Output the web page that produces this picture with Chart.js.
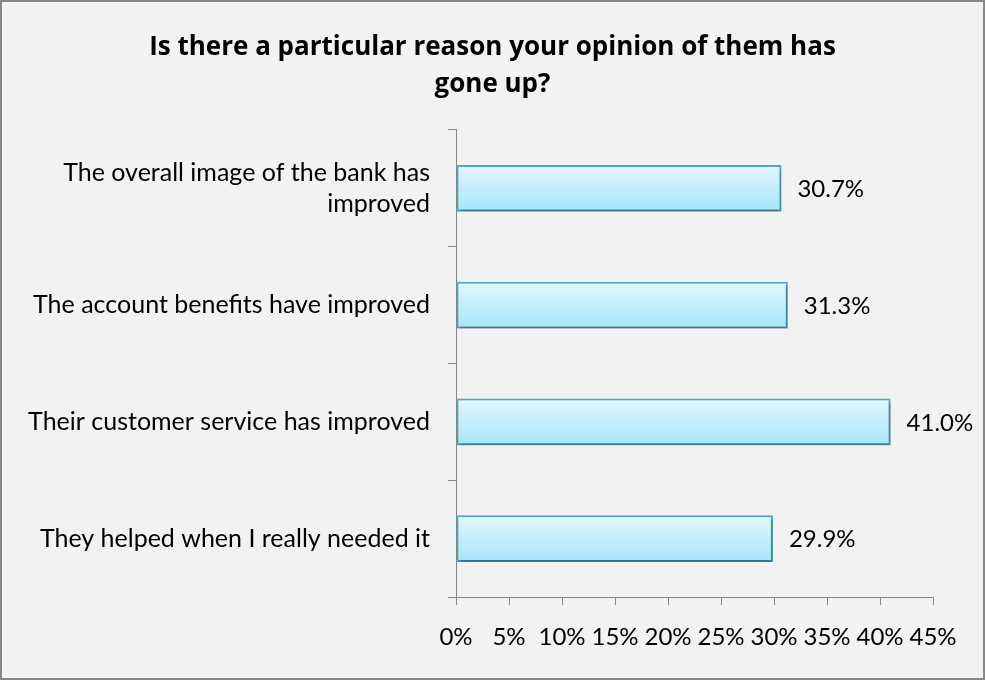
<!DOCTYPE html>
<html>
<head>
<meta charset="utf-8">
<script src="https://cdn.jsdelivr.net/npm/chart.js@4/dist/chart.umd.min.js"></script>
<style>
  html, body { margin: 0; padding: 0; background: #f2f2f2; }
  #wrap { width: 985px; height: 680px; position: relative; }
</style>
</head>
<body>
<div id="wrap"><canvas id="c" width="985" height="680"></canvas></div>
<script>
// Survey answers, top to bottom
const categories = [
  ['The overall image of the bank has', 'improved'],
  'The account benefits have improved',
  'Their customer service has improved',
  'They helped when I really needed it'
];
const shares = [30.7, 31.3, 41.0, 29.9];
const titleLines = ['Is there a particular reason your opinion of them has', 'gone up?'];
const axisMax = 45;
const axisStep = 5;

const FONT = 'Lato, "Open Sans", sans-serif';
const TITLE_FONT = '"Open Sans", Lato, sans-serif';
const AXIS_GREY = '#878787';
const CAT_PCT = 0.4;

// Panel background and frame
const framePlugin = {
  id: 'frame',
  beforeDraw(chart) {
    const { ctx, width, height } = chart;
    ctx.save();
    ctx.fillStyle = '#f2f2f2';
    ctx.fillRect(0, 0, width, height);
    ctx.strokeStyle = '#878787';
    ctx.lineWidth = 2;
    ctx.strokeRect(1, 1, width - 2, height - 2);
    ctx.restore();
  }
};

// Soft drop shadow under the bars
const shadowPlugin = {
  id: 'barShadow',
  beforeDatasetsDraw(chart) {
    const { ctx } = chart;
    ctx.save();
    ctx.shadowColor = 'rgba(0,0,0,0.38)';
    ctx.shadowBlur = 4;
    ctx.shadowOffsetX = 1;
    ctx.shadowOffsetY = 3;
  },
  afterDatasetsDraw(chart) {
    chart.ctx.restore();
  }
};

// Percentage label beside each bar end
const valueLabelPlugin = {
  id: 'valueLabels',
  afterDatasetsDraw(chart) {
    const { ctx } = chart;
    const meta = chart.getDatasetMeta(0);
    ctx.save();
    ctx.font = '24px ' + FONT;
    ctx.fillStyle = '#000';
    ctx.textAlign = 'left';
    ctx.textBaseline = 'middle';
    meta.data.forEach((bar, i) => {
      ctx.fillText(shares[i].toFixed(1) + '%', bar.x + 16, bar.y + 1);
    });
    ctx.restore();
  }
};

// Light-to-deeper cyan fill running down each bar
function barGradient(c) {
  const chart = c.chart;
  const ys = chart.scales && chart.scales.y;
  if (!ys || !chart.chartArea || c.dataIndex === undefined) return '#c4eefb';
  const step = (ys.bottom - ys.top) / categories.length;
  const mid = ys.getPixelForValue(c.dataIndex);
  const half = step * CAT_PCT / 2;
  const g = chart.ctx.createLinearGradient(0, mid - half, 0, mid + half);
  g.addColorStop(0, '#e2f7fd');
  g.addColorStop(1, '#a6e5f8');
  return g;
}

new Chart(document.getElementById('c'), {
  type: 'bar',
  data: {
    labels: categories,
    datasets: [{
      data: shares,
      backgroundColor: barGradient,
      borderColor: '#4aaecb',
      borderWidth: 2,
      borderSkipped: false,
      categoryPercentage: CAT_PCT,
      barPercentage: 1
    }]
  },
  options: {
    indexAxis: 'y',
    responsive: false,
    animation: false,
    events: [],
    layout: { padding: 0 },
    plugins: {
      legend: { display: false },
      tooltip: { enabled: false },
      title: {
        display: true,
        text: titleLines,
        color: '#000',
        font: { family: TITLE_FONT, size: 26, weight: 'bold', lineHeight: 1.42 },
        padding: { top: 29.5, bottom: 26.5 }
      }
    },
    scales: {
      x: {
        min: 0,
        max: axisMax,
        ticks: {
          stepSize: axisStep,
          color: '#000',
          font: { family: FONT, size: 24 },
          padding: 18,
          maxRotation: 0,
          autoSkip: false,
          callback: v => v + '%'
        },
        grid: { drawOnChartArea: false, tickLength: 8, color: AXIS_GREY },
        border: { color: AXIS_GREY, width: 1 },
        afterFit(scale) { scale.height = 83; }
      },
      y: {
        offset: true,
        ticks: {
          color: '#000',
          font: { family: FONT, size: 25, lineHeight: 1.24 },
          padding: 18
        },
        grid: { offset: true, drawOnChartArea: false, tickLength: 8, color: AXIS_GREY },
        border: { color: AXIS_GREY, width: 1 },
        afterFit(scale) { scale.width = 456; }
      },
      // empty right-hand margin that holds the value labels
      margin: {
        type: 'linear',
        position: 'right',
        ticks: { display: false },
        grid: { display: false },
        border: { display: false },
        afterFit(scale) { scale.width = 52; }
      }
    }
  },
  plugins: [framePlugin, shadowPlugin, valueLabelPlugin]
});
</script>
</body>
</html>
